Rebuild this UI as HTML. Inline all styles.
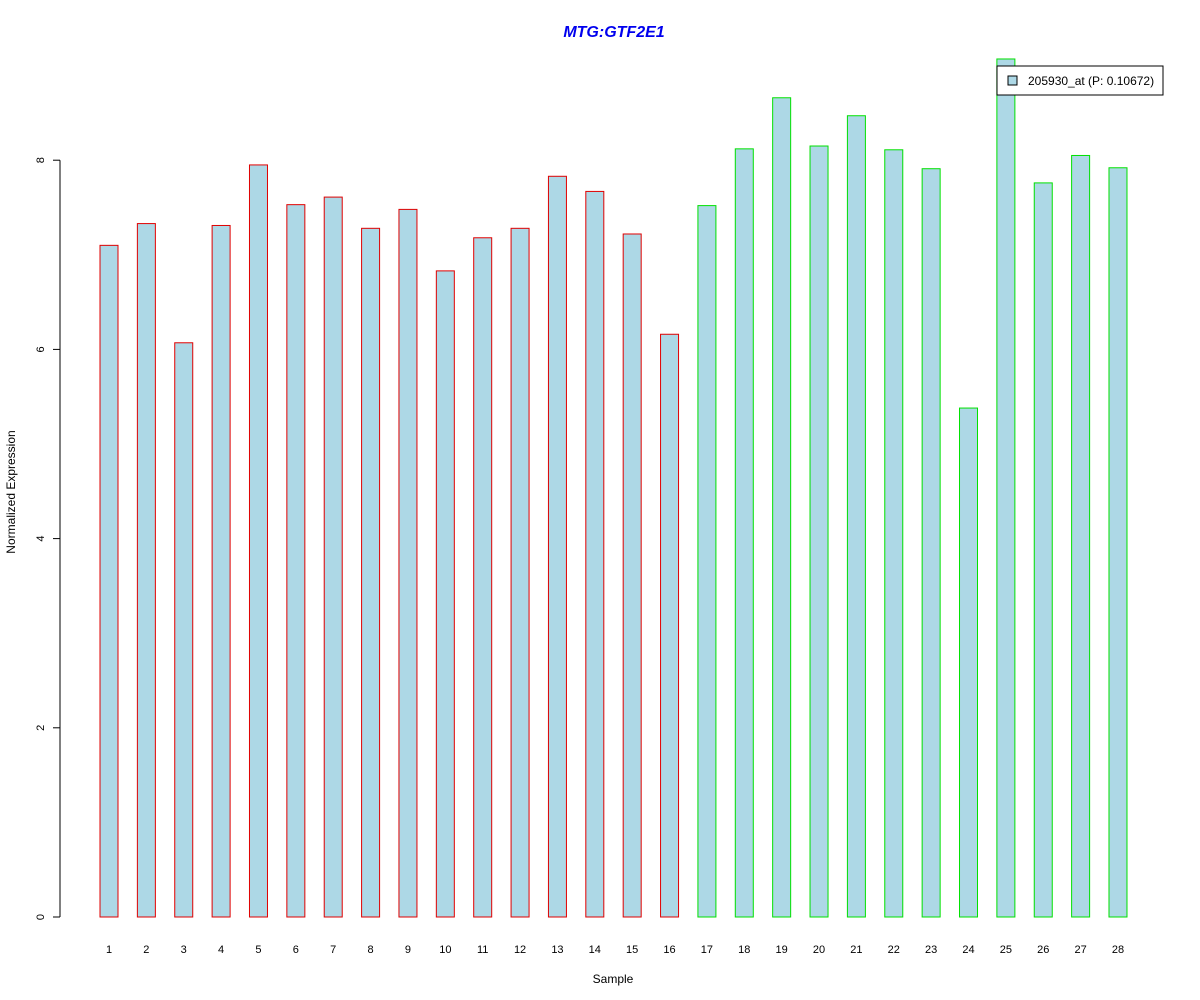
<!DOCTYPE html>
<html><head><meta charset="utf-8"><style>
body{margin:0;background:#fff;}
svg{display:block;font-family:"Liberation Sans",Arial,sans-serif;}
</style></head><body>
<svg id="chart" width="1200" height="1000">
<text x="614" y="37" text-anchor="middle" font-size="16" font-weight="bold" font-style="italic" fill="#0000ee">MTG:GTF2E1</text>
<text x="613" y="983" text-anchor="middle" font-size="12">Sample</text>
<text transform="translate(15,492) rotate(-90)" text-anchor="middle" font-size="12">Normalized Expression</text>
<g id="yaxis"></g>
<g id="bars"></g>
<g id="xlabels"></g>
<g>
<rect x="997" y="66" width="166" height="29" fill="#fff" stroke="#000"/>
<rect x="1008" y="76" width="9" height="9" fill="#add8e6" stroke="#000"/>
<text x="1028" y="85" font-size="12">205930_at (P: 0.10672)</text>
</g>
</svg>
<script>
const categories = ["1","2","3","4","5","6","7","8","9","10","11","12","13","14","15","16","17","18","19","20","21","22","23","24","25","26","27","28"];
const values = [7.10,7.33,6.07,7.31,7.95,7.53,7.61,7.28,7.48,6.83,7.18,7.28,7.83,7.67,7.22,6.16,7.52,8.12,8.66,8.15,8.47,8.11,7.91,5.38,9.07,7.76,8.05,7.92];
const groups = ["a","a","a","a","a","a","a","a","a","a","a","a","a","a","a","a","b","b","b","b","b","b","b","b","b","b","b","b"];
const yTicks = [0,2,4,6,8];

const NS="http://www.w3.org/2000/svg";
const y0=917, pxPerUnit=94.6;
function yScale(v){return y0 - v*pxPerUnit;}
function xScale(i){return 109 + i*37.37;}
function mk(tag,attrs,parent){const e=document.createElementNS(NS,tag);for(const k in attrs)e.setAttribute(k,attrs[k]);parent.appendChild(e);return e;}

const ya=document.getElementById('yaxis');
const axisLine=mk('line',{x1:60,x2:60,y1:yScale(yTicks[0]),y2:yScale(yTicks[yTicks.length-1]),stroke:'#000'},ya);


yTicks.forEach(t=>{
  const y=yScale(t);
  const tk=mk('line',{x1:53,x2:60,y1:y,y2:y,stroke:'#000'},ya);
  
  
  const tx=mk('text',{transform:`translate(44,${y}) rotate(-90)`,'text-anchor':'middle','font-size':11},ya);
  tx.textContent=t;
  
  
});

const bg=document.getElementById('bars'), xl=document.getElementById('xlabels');
values.forEach((v,i)=>{
  const cx=xScale(i);
  const r=mk('rect',{x:cx-9,y:yScale(v),width:18,height:y0-yScale(v),fill:'#add8e6',stroke:groups[i]==='a'?'#e00000':'#00e000','stroke-width':1},bg);
  
  
  const t=mk('text',{x:cx,y:953,'text-anchor':'middle','font-size':11},xl);
  t.textContent=categories[i];
  
  
});
</script>
</body></html>
